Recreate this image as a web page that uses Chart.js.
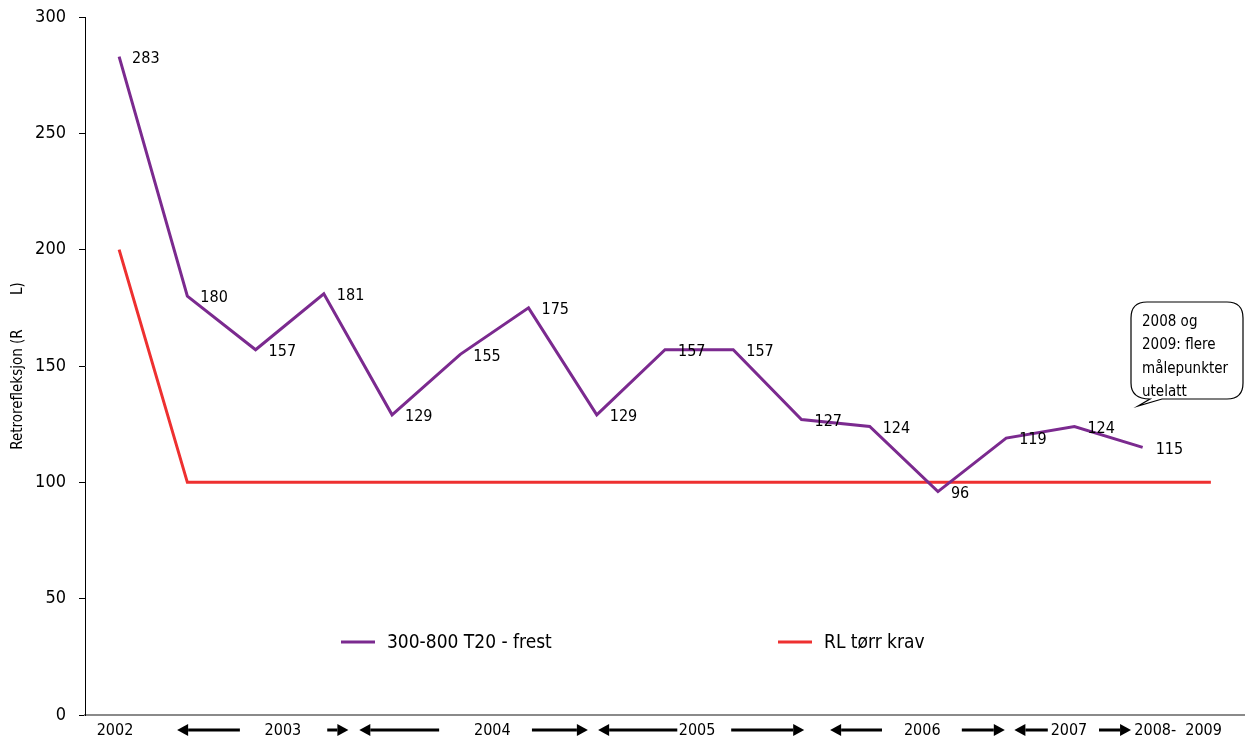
<!DOCTYPE html>
<html>
<head>
<meta charset="utf-8">
<script src="https://cdn.jsdelivr.net/npm/chart.js@4/dist/chart.umd.min.js"></script>
<style>
  html, body { margin: 0; padding: 0; background: #fff; }
  #wrap { width: 1245px; height: 740px; }
</style>
</head>
<body>
<div id="wrap"><canvas id="retroChart"></canvas></div>
<script>
// målinger, en per punkt på x-aksen
const categories = ['1', '2', '3', '4', '5', '6', '7', '8', '9', '10', '11', '12', '13', '14', '15', '16', '17'];
const frest = [283, 180, 157, 181, 129, 155, 175, 129, 157, 157, 127, 124, 96, 119, 124, 115, null];
const krav = [200, 100, 100, 100, 100, 100, 100, 100, 100, 100, 100, 100, 100, 100, 100, 100, 100];
const yTicks = [0, 50, 100, 150, 200, 250, 300];

// årstall under aksen (plassert i kategori-enheter)
const yearLabels = ['2002', '2003', '2004', '2005', '2006', '2007', '2008-  2009'];
const yearPos = [-0.06, 2.4, 5.47, 8.47, 11.77, 13.92, 15.52];
// piler: fra, til, retning (-1 venstre, 1 høyre)
const arrows = [
  [0.85, 1.77, -1], [3.05, 3.36, 1], [3.52, 4.69, -1], [6.05, 6.87, 1],
  [7.02, 8.18, -1], [8.97, 10.04, 1], [10.42, 11.18, -1], [12.35, 12.98, 1],
  [13.12, 13.61, -1], [14.36, 14.83, 1]
];
const noteLines = ['2008 og', '2009: flere', 'målepunkter', 'utelatt'];

const PURPLE = '#7b2a8f';
const RED = '#ee3030';
const FONT = "'Liberation Sans Narrow', 'DejaVu Sans Condensed', sans-serif";

Chart.defaults.font.family = FONT;
Chart.defaults.color = '#000';

const extras = {
  id: 'extras',
  afterDraw(chart) {
    const ctx = chart.ctx;
    const xs = chart.scales.x;
    ctx.save();

    // verdier ved punktene
    ctx.font = '16px ' + FONT;
    ctx.fillStyle = '#000';
    ctx.textAlign = 'left';
    ctx.textBaseline = 'middle';
    const meta = chart.getDatasetMeta(0);
    meta.data.forEach((pt, i) => {
      if (frest[i] == null) return;
      ctx.fillText(String(frest[i]), pt.x + 13, pt.y + 2);
    });

    // forklaring inne i plottet
    const legY = 642;
    const legend = [[341, PURPLE, '300-800 T20 - frest'], [778, RED, 'RL tørr krav']];
    ctx.font = '19px ' + FONT;
    legend.forEach(([lx, col, txt]) => {
      ctx.strokeStyle = col;
      ctx.lineWidth = 3;
      ctx.beginPath();
      ctx.moveTo(lx, legY);
      ctx.lineTo(lx + 34, legY);
      ctx.stroke();
      ctx.fillText(txt, lx + 46, legY + 1);
    });

    // årstall og piler
    const by = 731;
    ctx.font = '16px ' + FONT;
    ctx.textAlign = 'center';
    yearLabels.forEach((t, i) => {
      ctx.fillText(t, xs.getPixelForValue(yearPos[i]), by);
    });
    ctx.fillStyle = '#000';
    ctx.strokeStyle = '#000';
    ctx.lineWidth = 3;
    arrows.forEach(([a, b, dir]) => {
      const x1 = xs.getPixelForValue(a), x2 = xs.getPixelForValue(b);
      const tip = dir < 0 ? x1 : x2;
      const tail = dir < 0 ? x2 : x1;
      const head = 11 * dir;
      ctx.beginPath();
      ctx.moveTo(tail, by - 1);
      ctx.lineTo(tip - head, by - 1);
      ctx.stroke();
      ctx.beginPath();
      ctx.moveTo(tip, by - 1);
      ctx.lineTo(tip - head, by - 7);
      ctx.lineTo(tip - head, by + 5);
      ctx.closePath();
      ctx.fill();
    });

    // snakkeboble
    const L = 1131, T = 302, R = 1243, B = 399, r = 16;
    ctx.strokeStyle = '#000';
    ctx.lineWidth = 1.2;
    ctx.beginPath();
    ctx.moveTo(L + r, T);
    ctx.lineTo(R - r, T);
    ctx.quadraticCurveTo(R, T, R, T + r);
    ctx.lineTo(R, B - r);
    ctx.quadraticCurveTo(R, B, R - r, B);
    ctx.lineTo(1162, B);
    ctx.lineTo(1138, 406);
    ctx.lineTo(1150, B);
    ctx.quadraticCurveTo(L, B, L, B - r);
    ctx.lineTo(L, T + r);
    ctx.quadraticCurveTo(L, T, L + r, T);
    ctx.closePath();
    ctx.fillStyle = '#fff';
    ctx.fill();
    ctx.stroke();
    ctx.fillStyle = '#000';
    ctx.font = '15px ' + FONT;
    ctx.textAlign = 'left';
    noteLines.forEach((t, i) => ctx.fillText(t, 1142, 322 + i * 23.5));

    ctx.restore();
  }
};

new Chart(document.getElementById('retroChart'), {
  type: 'line',
  data: {
    labels: categories,
    datasets: [{
      label: '300-800 T20 - frest',
      data: frest,
      borderColor: PURPLE,
      borderWidth: 3,
      pointRadius: 0,
      tension: 0
    }, {
      label: 'RL tørr krav',
      data: krav,
      borderColor: RED,
      borderWidth: 3,
      pointRadius: 0,
      tension: 0
    }]
  },
  options: {
    responsive: true,
    maintainAspectRatio: false,
    animation: false,
    layout: { padding: { top: 17, right: 0, bottom: 0, left: 0 } },
    plugins: {
      legend: { display: false },
      tooltip: { enabled: false }
    },
    scales: {
      x: {
        offset: true,
        grid: { display: false },
        border: { display: true, color: '#8a8a8a', width: 2 },
        ticks: { display: false },
        afterFit(s) { s.height = 25; }
      },
      y: {
        min: 0,
        max: 300,
        afterBuildTicks(s) { s.ticks = yTicks.map(v => ({ value: v })); },
        ticks: { font: { size: 18 }, padding: 13, color: '#000' },
        grid: { display: true, drawOnChartArea: false, drawTicks: true, tickLength: 6, color: '#000' },
        border: { display: true, color: '#000', width: 1 },
        title: {
          display: true,
          text: 'Retrorefleksjon (R        L)',
          font: { size: 15 },
          color: '#000',
          padding: { top: 9, bottom: 0 }
        },
        afterFit(s) {
          s.width = 85;
          s.paddingTop = 0;
          s.paddingBottom = 0;
        }
      }
    }
  },
  plugins: [extras]
});
</script>
</body>
</html>
